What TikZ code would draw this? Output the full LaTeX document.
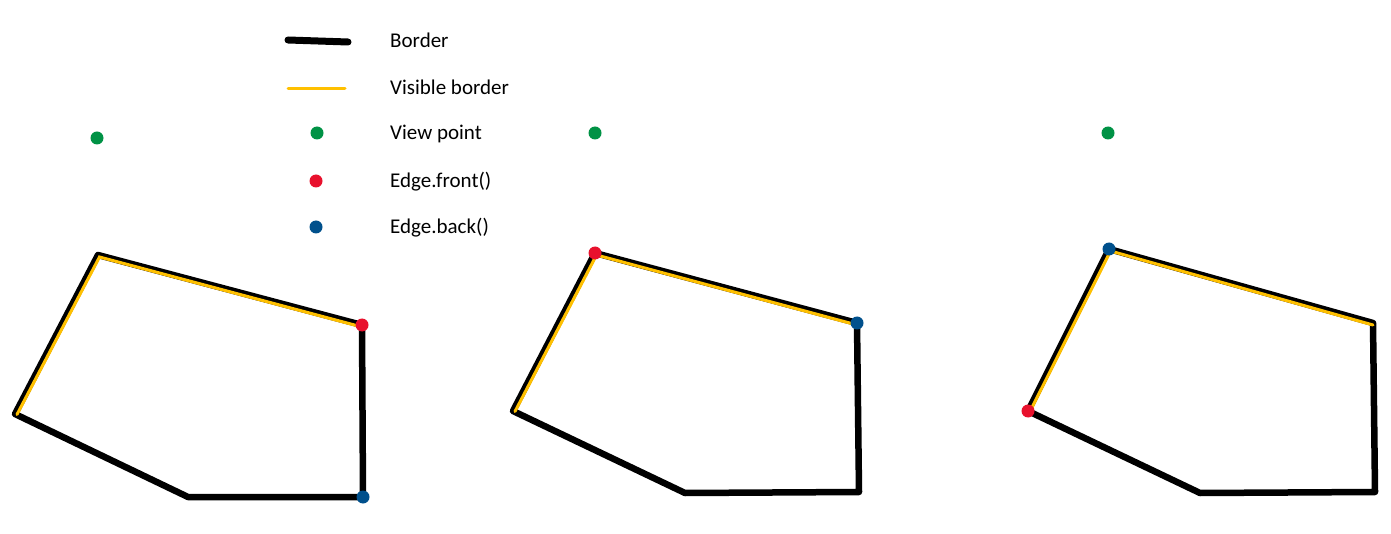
\documentclass[tikz,border=0pt]{standalone}
\usepackage{fontspec}
\setmainfont{Carlito}
\definecolor{viewgreen}{RGB}{0,146,69}
\definecolor{frontred}{RGB}{232,17,45}
\definecolor{backblue}{RGB}{0,80,140}
\definecolor{gold}{RGB}{255,192,0}
\begin{document}
\begin{tikzpicture}[x=1pt,y=-1pt,
  border/.style={line width=6.5pt,line cap=round,line join=round},
  visible/.style={line width=3pt,draw=gold,line cap=round},
  pointdot/.style={circle,inner sep=0pt,minimum size=13pt,fill=#1},
  legendtext/.style={anchor=base west,inner sep=0pt,font=\fontsize{21}{25}\selectfont}]
  \useasboundingbox (0,0) rectangle (1391,534);
  % legend
  \coordinate (lb1) at (288,40); \coordinate (lb2) at (348,42);
  \coordinate (ly1) at (288,89); \coordinate (ly2) at (345,89);
  \draw[border,line width=7pt] (lb1) -- (lb2);
  \draw[visible] (ly1) -- (ly2);
  \node[pointdot=viewgreen] (lview) at (317,133) {};
  \node[pointdot=frontred] (lfront) at (316,181) {};
  \node[pointdot=backblue] (lback) at (316,227) {};
  \node[legendtext] (tborder) at (390,48) {Border};
  \node[legendtext] (tvisible) at (390,95) {Visible border};
  \node[legendtext] (tview) at (390,140) {View point};
  \node[legendtext] (tfront) at (390,188) {Edge.front()};
  \node[legendtext] (tback) at (390,234) {Edge.back()};
  % polygons
  \foreach \p/\x/\y in {a1/98/255,a2/362/325,a3/363/497,a4/188/497,a5/15/414,
                        b1/595/253,b2/857/323,b3/859/492,b4/685/493,b5/513/411,
                        c1/1109/249,c2/1373/323,c3/1375/492,c4/1200/493,c5/1028/411} {
    \coordinate (\p) at (\x,\y);
  }
  \foreach \q in {a,b,c} {
    \draw[border] (\q1) -- (\q2) -- (\q3) -- (\q4) -- (\q5) -- cycle;
    \draw[visible] ([shift={(2,0.5)}]\q5) -- ([shift={(1.5,2)}]\q1) -- ([shift={(0,2)}]\q2);
  }
  % view points
  \node[pointdot=viewgreen] (va) at (97,138) {};
  \node[pointdot=viewgreen] (vb) at (595,133) {};
  \node[pointdot=viewgreen] (vc) at (1108,133) {};
  % front / back
  \node[pointdot=frontred] (fa) at (a2) {};
  \node[pointdot=backblue] (ba) at (a3) {};
  \node[pointdot=frontred] (fb) at (b1) {};
  \node[pointdot=backblue] (bb) at (b2) {};
  \node[pointdot=backblue] (bc) at (c1) {};
  \node[pointdot=frontred] (fc) at (c5) {};
\end{tikzpicture}
\end{document}
